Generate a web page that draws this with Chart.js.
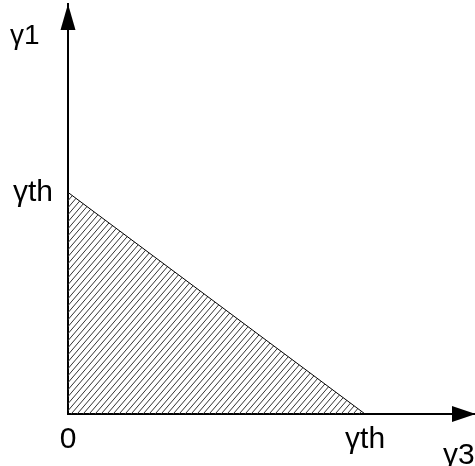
<!DOCTYPE html>
<html>
<head>
<meta charset="utf-8">
<script src="https://cdn.jsdelivr.net/npm/chart.js@4.4.1/dist/chart.umd.min.js"></script>
<style>
  html, body { margin: 0; padding: 0; background: #fff; }
  #wrap { width: 475px; height: 466px; }
</style>
</head>
<body>
<div id="wrap"><canvas id="regionChart"></canvas></div>
<script>
// ---- data (gamma values, in units of the threshold gamma_th) ----
const regionX = [0, 1];            // gamma3 along the hypotenuse
const regionY = [1, 0];            // gamma1 along the hypotenuse
const xTickValues = [0, 1];
const xTickLabels = ['0', 'γth'];
const yTickValues = [1];
const yTickLabels = ['γth'];
const axisNames = { x: 'γ3', y: 'γ1' };

const FONT = 'Liberation Sans, Arial, sans-serif';

// diagonal hatch for the shaded region
function makeHatch() {
    const c = document.createElement('canvas');
    c.width = 6;
    c.height = 7;
    const g = c.getContext('2d');
    g.strokeStyle = '#333';
    g.lineWidth = 1;
    g.beginPath();
    for (const dx of [-6, 0, 6]) {
        g.moveTo(dx, 7);
        g.lineTo(dx + 6, 0);
    }
    g.stroke();
    return g.createPattern(c, 'repeat');
}

// arrows on the axes and the axis names
const axisArrows = {
    id: 'axisArrows',
    afterDraw(chart) {
        const { ctx, chartArea, scales } = chart;
        const ox = scales.x.getPixelForValue(0);
        const oy = scales.y.getPixelForValue(0);
        ctx.save();
        ctx.fillStyle = '#000';
        // y arrow
        ctx.beginPath();
        ctx.moveTo(ox, chartArea.top);
        ctx.lineTo(ox - 7.5, chartArea.top + 26);
        ctx.lineTo(ox + 7.5, chartArea.top + 26);
        ctx.closePath();
        ctx.fill();
        // x arrow
        ctx.beginPath();
        ctx.moveTo(chartArea.right + 1, oy);
        ctx.lineTo(chartArea.right - 23, oy - 8);
        ctx.lineTo(chartArea.right - 23, oy + 8);
        ctx.closePath();
        ctx.fill();
        // names
        ctx.textAlign = 'left';
        ctx.textBaseline = 'alphabetic';
        ctx.font = '28px ' + FONT;
        ctx.fillText(axisNames.y, 10, 44);
        ctx.font = '30px ' + FONT;
        ctx.fillText(axisNames.x, 443, 464);
        ctx.restore();
    }
};

const ctx = document.getElementById('regionChart').getContext('2d');
new Chart(ctx, {
    type: 'line',
    data: {
        datasets: [{
            data: regionX.map((x, i) => ({ x: x, y: regionY[i] })),
            borderColor: '#000',
            borderWidth: 1,
            backgroundColor: makeHatch(),
            fill: 'origin',
            pointRadius: 0,
            tension: 0
        }]
    },
    options: {
        responsive: true,
        maintainAspectRatio: false,
        animation: false,
        layout: { padding: { top: 4, right: 0, left: 0, bottom: 0 } },
        plugins: {
            legend: { display: false },
            tooltip: { enabled: false }
        },
        scales: {
            x: {
                type: 'linear',
                min: 0,
                max: 1.37,
                z: 1,
                grid: { display: false, drawTicks: false },
                border: { display: true, color: '#000', width: 2 },
                afterBuildTicks: s => { s.ticks = xTickValues.map(v => ({ value: v })); },
                afterFit: s => {
                    s.height = 52;
                    s.paddingLeft = 0;
                    s.paddingRight = 0;
                },
                ticks: {
                    color: '#000',
                    padding: 8,
                    maxRotation: 0,
                    font: { family: FONT, size: 30 },
                    callback: v => xTickLabels[xTickValues.indexOf(v)]
                }
            },
            y: {
                type: 'linear',
                min: 0,
                max: 1.85,
                z: 1,
                grid: { display: false, drawTicks: false },
                border: { display: true, color: '#000', width: 2 },
                afterBuildTicks: s => { s.ticks = yTickValues.map(v => ({ value: v })); },
                afterFit: s => {
                    s.width = 68;
                    s.paddingTop = 0;
                    s.paddingBottom = 0;
                },
                ticks: {
                    color: '#000',
                    padding: 15,
                    font: { family: FONT, size: 30 },
                    callback: v => yTickLabels[yTickValues.indexOf(v)]
                }
            }
        }
    },
    plugins: [axisArrows]
});
</script>
</body>
</html>
